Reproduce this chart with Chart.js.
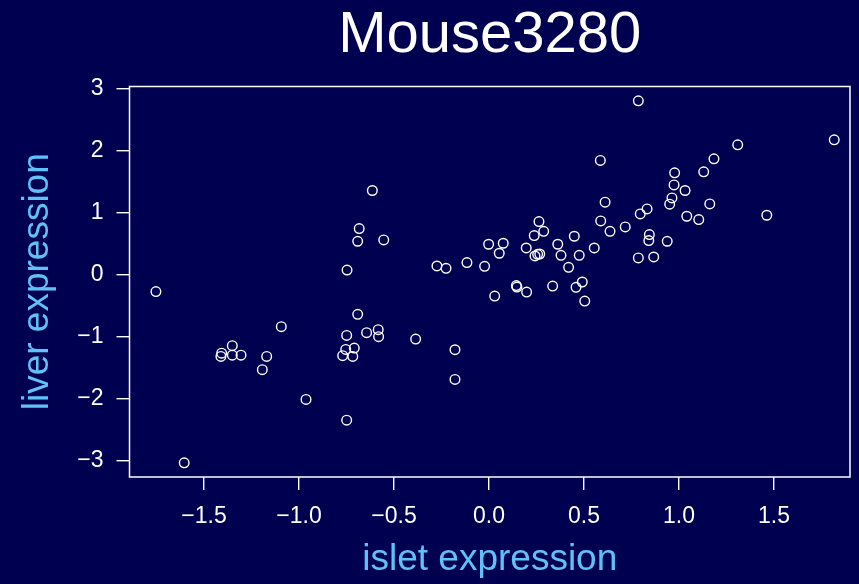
<!DOCTYPE html>
<html lang="en">
<head>
    <meta charset="UTF-8">
    <title>Mouse3280</title>
    <script src="https://cdn.jsdelivr.net/npm/chart.js"></script>
    <style>
        body, html {
            margin: 0;
            padding: 0;
            background: #000050;
        }
        canvas {
            display: block;
        }
    </style>
</head>
<body>
    <canvas id="exprChart" width="859" height="584"></canvas>
    <script>
        // islet vs liver expression, one entry per mouse
        const islet = [-1.753, -1.604, -1.407, -1.411, -1.351, -1.351, -1.305, -1.170, -1.193, -1.093,
            -0.963, -0.749, -0.747, -0.691, -0.749, -0.644, -0.754, -0.709, -0.770, -0.717,
            -0.683, -0.691, -0.614, -0.554, -0.274, -0.226, -0.116, -0.023, -0.002, 0.075,
            0.054, 0.196, 0.263, 0.288, 0.238, 0.242, 0.256, 0.267, 0.362, 0.379,
            0.449, 0.475, 0.419, 0.554, 0.586, 0.611, 0.588, 0.637,
            -0.583, -0.581, -0.386, -0.179, -0.179,
            0.144, 0.147, 0.198, 0.030, 0.335, 0.458, 0.491, 0.504,
            0.786, 1.817, 1.309, 1.184, 0.977, 1.130, 0.974, 1.032, 0.963, 0.951,
            1.162, 0.832, 0.796, 1.462, 1.041, 1.104, 0.717,
            0.844, 0.841, 0.938, 0.786, 0.867];
        const liver = [-0.274, -3.032, -1.265, -1.318, -1.145, -1.297, -1.297, -1.318, -1.532, -0.839,
            -2.011, -2.345, 0.074, -0.640, -0.979, -0.935, -1.205, -1.184, -1.306, -1.318,
            0.742, 0.537, 1.355, 0.558, 0.139, 0.102, 0.194, 0.134, 0.489, 0.505,
            0.344, 0.429, 0.855, 0.698, 0.629, 0.300, 0.327, 0.332, 0.489, 0.311,
            0.618, 0.311, 0.118, 0.429, 1.839, 1.166, 0.865, 0.698,
            -0.887, -1.0, -1.039, -1.21, -1.689,
            -0.177, -0.2, -0.281, -0.345, -0.184, -0.205, -0.119, -0.426,
            2.8, 2.171, 2.09, 1.865, 1.639, 1.655, 1.445, 1.355, 1.235, 1.134,
            1.139, 1.058, 0.977, 0.956, 0.94, 0.887, 0.768,
            0.645, 0.548, 0.537, 0.268, 0.284];

        const xTicks = [-1.5, -1.0, -0.5, 0.0, 0.5, 1.0, 1.5];
        const yTicks = [-3, -2, -1, 0, 1, 2, 3];

        const FONT = "'Liberation Sans', Arial, Helvetica, sans-serif";
        const labelBlue = '#60c0f8';

        function fmt(v, digits) {
            const s = Math.abs(v).toFixed(digits);
            return v < 0 ? '\u2212' + s : s;
        }

        // R-style box around the plot region
        const boxPlugin = {
            id: 'box',
            afterDraw(chart) {
                const a = chart.chartArea;
                const ctx = chart.ctx;
                ctx.save();
                ctx.strokeStyle = '#ffffff';
                ctx.lineWidth = 1.5;
                ctx.strokeRect(a.left, a.top, a.right - a.left, a.bottom - a.top);
                ctx.restore();
            }
        };

        const ctx = document.getElementById('exprChart').getContext('2d');
        new Chart(ctx, {
            type: 'scatter',
            data: {
                datasets: [{
                    data: islet.map((x, i) => ({ x: x, y: liver[i] })),
                    pointRadius: 4.8,
                    pointBorderWidth: 1.4,
                    pointBorderColor: '#ffffff',
                    pointBackgroundColor: 'rgba(0,0,0,0)'
                }]
            },
            options: {
                responsive: false,
                animation: false,
                layout: { padding: { top: 0, right: 9, left: 0, bottom: 0 } },
                plugins: {
                    legend: { display: false },
                    tooltip: { enabled: false },
                    title: {
                        display: true,
                        text: 'Mouse3280',
                        color: '#ffffff',
                        fullSize: false,
                        font: { family: FONT, size: 58, weight: 'normal', lineHeight: 1 },
                        padding: { top: 7, bottom: 21.5 }
                    }
                },
                scales: {
                    x: {
                        type: 'linear',
                        min: -1.892,
                        max: 1.9,
                        afterFit(scale) { scale.height = 107; },
                        afterBuildTicks(scale) { scale.ticks = xTicks.map(v => ({ value: v })); },
                        grid: {
                            drawOnChartArea: false,
                            color: '#ffffff',
                            lineWidth: 1.4,
                            tickLength: 13
                        },
                        border: { display: false },
                        ticks: {
                            color: '#ffffff',
                            font: { family: FONT, size: 23 },
                            padding: 13,
                            maxRotation: 0,
                            autoSkip: false,
                            callback: v => fmt(v, 1)
                        },
                        title: {
                            display: true,
                            text: 'islet expression',
                            color: labelBlue,
                            font: { family: FONT, size: 37, lineHeight: 1.2 },
                            padding: { top: 0, bottom: 2 }
                        }
                    },
                    y: {
                        type: 'linear',
                        min: -3.26,
                        max: 3.03,
                        afterFit(scale) { scale.width = 129.5; },
                        afterBuildTicks(scale) { scale.ticks = yTicks.map(v => ({ value: v })); },
                        grid: {
                            drawOnChartArea: false,
                            color: '#ffffff',
                            lineWidth: 1.4,
                            tickLength: 13
                        },
                        border: { display: false },
                        ticks: {
                            color: '#ffffff',
                            font: { family: FONT, size: 23 },
                            padding: 13,
                            autoSkip: false,
                            callback: v => fmt(v, 0)
                        },
                        title: {
                            display: true,
                            text: 'liver expression',
                            color: labelBlue,
                            font: { family: FONT, size: 37, lineHeight: 1.2 },
                            padding: { top: 16, bottom: 0 }
                        }
                    }
                }
            },
            plugins: [boxPlugin]
        });
    </script>
</body>
</html>
